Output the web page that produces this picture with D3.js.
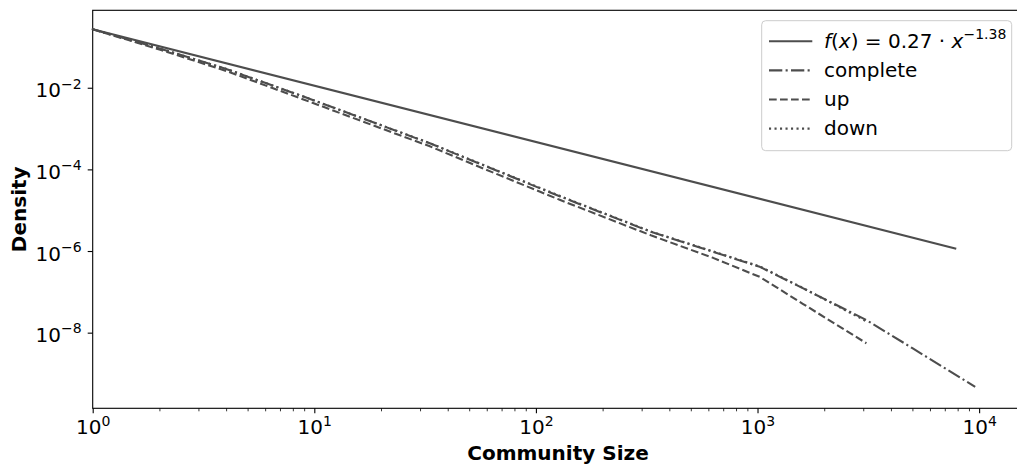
<!DOCTYPE html>
<html>
<head>
<meta charset="utf-8">
<script src="https://cdn.jsdelivr.net/npm/d3@7"></script>
<style>
  body { margin: 0; background: #fff; }
  svg { display: block; }
  text { font-family: "DejaVu Sans", sans-serif; fill: #000; }
</style>
</head>
<body>
<svg id="chart" width="1017" height="466"></svg>
<script>
// Community sizes at which the densities were measured (log-binned)
const sizes = [1, 2, 4, 9, 16, 33, 63, 128, 330, 630, 1024, 1600, 3100, 5000, 9600];

// Density of community sizes for each network variant
const completeDensity = [0.27, 0.092, 0.0289, 5.98e-3, 1.89e-3, 4.41e-4, 1.05e-4, 2.19e-5,
                         2.95e-6, 9.6e-7, 4.1e-7, 1.23e-7, 2.04e-8, 4.17e-9, 4.7e-10];
const upDensity       = [0.27, 0.0867, 0.0258, 5.09e-3, 1.59e-3, 3.72e-4, 8.7e-5, 1.8e-5,
                         2.43e-6, 6.8e-7, 2.32e-7, 5.1e-8, 5.5e-9];
const downDensity     = [0.27, 0.092, 0.029, 6.0e-3, 1.9e-3, 4.45e-4, 1.07e-4, 2.25e-5,
                         3.0e-6, 9.8e-7, 4.2e-7, 1.25e-7, 1.9e-8];

// Power-law fit f(x) = c * x^k over the fitted range
const fitCoef = 0.27;
const fitExp = -1.38;
const fitRange = [1, 7800];

// Axis ticks
const xMajorTicks = [1, 10, 100, 1000, 10000];
const xTickExponents = ["0", "1", "2", "3", "4"];
const yMajorTicks = [1e-2, 1e-4, 1e-6, 1e-8];
const yTickExponents = ["\u22122", "\u22124", "\u22126", "\u22128"];

const legendLabels = ["complete", "up", "down"];

const svg = d3.select("#chart");
const plot = { left: 92.7, right: 1023, top: 10.3, bottom: 408.3 };

const x = d3.scaleLog().domain([1, Math.pow(10, 4.198)]).range([plot.left, plot.right]);
const y = d3.scaleLog().domain([Math.pow(10, -9.853), Math.pow(10, -0.103)]).range([plot.bottom, plot.top]);

const ink = "#4d4d4d";
const lw = 2.1;
const dashStyles = {
  solid: null,
  complete: "13.3,3.3,2.1,3.3",
  up: "7.7,3.3",
  down: "2.1,3.4"
};

// ---- x axis: minor and major ticks
const xMinor = [];
for (let d = 1; d <= 10000; d *= 10) {
  for (let m = 2; m <= 9; m++) {
    const v = d * m;
    if (v <= x.domain()[1]) xMinor.push(v);
  }
}
const xAxisG = svg.append("g").attr("transform", `translate(0,${plot.bottom})`);
xAxisG.append("g")
  .call(d3.axisBottom(x).tickValues(xMinor).tickSize(3).tickFormat(""))
  .call(g => g.select(".domain").remove())
  .call(g => g.selectAll("line").attr("stroke", "#000").attr("stroke-width", 0.8));
const xMaj = xAxisG.append("g")
  .call(d3.axisBottom(x).tickValues(xMajorTicks).tickSize(5).tickFormat(""))
  .call(g => g.select(".domain").remove())
  .call(g => g.selectAll("line").attr("stroke", "#000").attr("stroke-width", 1.1));
xMaj.selectAll(".tick").each(function(d, i) {
  const t = d3.select(this).select("text")
    .attr("y", 25.7).attr("dy", null)
    .attr("text-anchor", "middle")
    .style("font-size", "20px")
    .attr("fill", "#000");
  t.text(null);
  t.append("tspan").text("10");
  t.append("tspan").attr("dy", -8).style("font-size", "14px").text(xTickExponents[i]);
});

// ---- y axis
const yAxisG = svg.append("g").attr("transform", `translate(${plot.left},0)`);
const yMaj = yAxisG.append("g")
  .call(d3.axisLeft(y).tickValues(yMajorTicks).tickSize(5).tickFormat(""))
  .call(g => g.select(".domain").remove())
  .call(g => g.selectAll("line").attr("stroke", "#000").attr("stroke-width", 1.1));
yMaj.selectAll(".tick").each(function(d, i) {
  const t = d3.select(this).select("text")
    .attr("x", -11).attr("y", 9).attr("dy", null)
    .attr("text-anchor", "end")
    .style("font-size", "20px")
    .attr("fill", "#000");
  t.text(null);
  t.append("tspan").text("10");
  t.append("tspan").attr("dy", -8.7).style("font-size", "14px").text(yTickExponents[i]);
});

// ---- spines (the right spine falls just outside the canvas)
svg.append("rect")
  .attr("x", plot.left).attr("y", plot.top)
  .attr("width", plot.right - plot.left).attr("height", plot.bottom - plot.top)
  .attr("fill", "none").attr("stroke", "#000").attr("stroke-width", 1.1);

// ---- axis titles
svg.append("text")
  .attr("x", 558).attr("y", 460)
  .attr("text-anchor", "middle")
  .style("font-size", "20px").style("font-weight", "bold")
  .text("Community Size");
svg.append("text")
  .attr("transform", `translate(26,${(plot.top + plot.bottom) / 2}) rotate(-90)`)
  .attr("text-anchor", "middle")
  .style("font-size", "20px").style("font-weight", "bold")
  .text("Density");

// ---- data lines
const line = d3.line().x(d => x(d[0])).y(d => y(d[1]));
const plotG = svg.append("g");

const fitPts = fitRange.map(v => [v, fitCoef * Math.pow(v, fitExp)]);
plotG.append("path").datum(fitPts)
  .attr("d", line).attr("fill", "none")
  .attr("stroke", ink).attr("stroke-width", lw).attr("stroke-linecap", "square");

const series = [
  { key: "complete", values: completeDensity },
  { key: "up", values: upDensity },
  { key: "down", values: downDensity }
];
series.forEach(s => {
  const pts = s.values.map((v, i) => [sizes[i], v]);
  plotG.append("path").datum(pts)
    .attr("d", line).attr("fill", "none")
    .attr("stroke", ink).attr("stroke-width", lw)
    .attr("stroke-dasharray", dashStyles[s.key])
    .attr("stroke-linejoin", "round");
});

// ---- legend
const lg = svg.append("g");
lg.append("rect")
  .attr("x", 761.7).attr("y", 20.7).attr("width", 250).attr("height", 130)
  .attr("rx", 4).attr("ry", 4)
  .attr("fill", "#fff").attr("fill-opacity", 0.8)
  .attr("stroke", "#ccc").attr("stroke-width", 1);

const rowY = i => 41.3 + i * 29.1;
const legendKeys = ["solid", "complete", "up", "down"];
legendKeys.forEach((k, i) => {
  lg.append("line")
    .attr("x1", 769).attr("x2", 812.3)
    .attr("y1", rowY(i)).attr("y2", rowY(i))
    .attr("stroke", ink).attr("stroke-width", lw)
    .attr("stroke-dasharray", dashStyles[k]);
});

// first row: the fitted formula
const f = lg.append("text").attr("x", 824).attr("y", rowY(0) + 6.8).style("font-size", "20px");
f.append("tspan").style("font-style", "italic").text("f");
f.append("tspan").text("(");
f.append("tspan").style("font-style", "italic").text("x");
f.append("tspan").text(") = " + fitCoef + " \u00b7 ");
f.append("tspan").style("font-style", "italic").text("x");
f.append("tspan").attr("dy", -9).style("font-size", "14px").text("\u2212" + Math.abs(fitExp));

legendLabels.forEach((lab, i) => {
  lg.append("text")
    .attr("x", 824).attr("y", rowY(i + 1) + 6.8)
    .style("font-size", "20px")
    .text(lab);
});
</script>
</body>
</html>
